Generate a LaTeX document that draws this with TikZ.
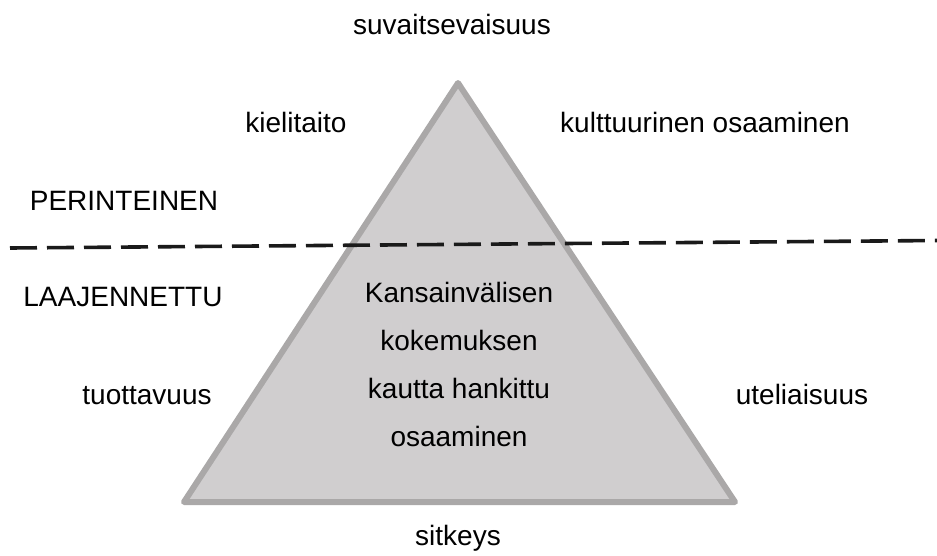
\documentclass[tikz,border=0pt]{standalone}
\usepackage{fontspec}
\setmainfont{Liberation Sans}
\definecolor{trifill}{RGB}{208,206,207}
\definecolor{tridraw}{RGB}{170,168,168}
\definecolor{dashcol}{RGB}{26,26,26}
\begin{document}
\begin{tikzpicture}[x=1pt,y=-1pt,
  lbl/.style={anchor=base,inner sep=0pt,font=\fontsize{28}{33}\selectfont},
  tri/.style={fill=trifill,draw=tridraw,line width=6pt,line join=round},
  divider/.style={draw=dashcol,line width=3.6pt,dash pattern=on 27pt off 10pt}]
\useasboundingbox (0,0) rectangle (937,555);
\coordinate (apex) at (458,83);
\coordinate (bl) at (184,502);
\coordinate (br) at (735,502);
\draw[tri] (apex) -- (bl) -- (br) -- cycle;
\coordinate (dl) at (10,248);
\coordinate (dr) at (937,240.5);
\draw[divider] (dl) -- (dr);
\node[lbl] (suv) at (452,34) {suvaitsevaisuus};
\node[lbl] (kiel) at (296,132) {kielitaito};
\node[lbl] (kult) at (705,132) {kulttuurinen osaaminen};
\node[lbl] (per) at (124,210) {PERINTEINEN};
\node[lbl] (laa) at (123,306) {LAAJENNETTU};
\node[lbl,align=center,font=\fontsize{28}{48}\selectfont] (mid) at (459,446) {Kansainvälisen\\kokemuksen\\kautta hankittu\\osaaminen};
\node[lbl] (tuo) at (147,404) {tuottavuus};
\node[lbl] (ute) at (802,404) {uteliaisuus};
\node[lbl] (sit) at (458,545) {sitkeys};
\end{tikzpicture}
\end{document}
